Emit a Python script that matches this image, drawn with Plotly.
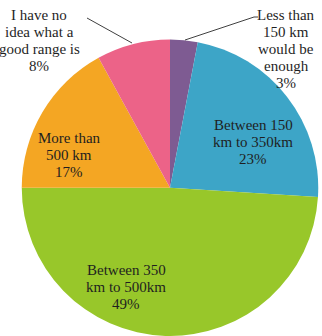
import plotly.graph_objects as go

W, H = 322, 336

categories = [
    "Less than<br>150 km<br>would be<br>enough",
    "Between 150<br>km to 350km",
    "Between 350<br>km to 500km",
    "More than<br>500 km",
    "I have no<br>idea what a<br>good range is",
]
values = [3, 23, 49, 17, 8]
colors = ["#7E5B92", "#3DA5C7", "#98C72A", "#F4A623", "#EC6388"]

# label anchor (pixel centre x, first-line centre y)
label_pos = [(286, 15), (253, 125), (126, 270), (69, 138), (39, 15)]
line_gap = 17

fig = go.Figure(go.Pie(
    labels=[c.replace("<br>", " ") for c in categories],
    values=values,
    sort=False,
    direction="clockwise",
    rotation=0,
    marker=dict(colors=colors, line=dict(width=0)),
    textinfo="none",
    hoverinfo="none",
    domain=dict(x=[21.5 / W, 318.5 / W], y=[0, 1 - 39.5 / H]),
    showlegend=False,
))

annotations = []
for cat, val, (px, py) in zip(categories, values, label_pos):
    lines = cat.split("<br>") + [f"{val}%"]
    for i, t in enumerate(lines):
        annotations.append(dict(
            text=t, x=px / W, y=1 - (py + i * line_gap) / H,
            xref="paper", yref="paper", xanchor="center", yanchor="middle",
            showarrow=False,
            font=dict(family="Liberation Serif", size=15, color="#1f1f1f"),
        ))

def seg(x0, y0, x1, y1):
    return dict(type="line", xref="paper", yref="paper",
                x0=x0 / W, y0=1 - y0 / H, x1=x1 / W, y1=1 - y1 / H,
                line=dict(color="#404040", width=1))

shapes = [
    seg(87, 18, 132, 43),
    seg(185, 40, 254, 17),
    seg(254, 17, 258, 17),
]

fig.update_layout(
    width=W, height=H,
    margin=dict(l=0, r=0, t=0, b=0),
    paper_bgcolor="white",
    plot_bgcolor="white",
    annotations=annotations,
    shapes=shapes,
)

fig.write_html("out.html")
